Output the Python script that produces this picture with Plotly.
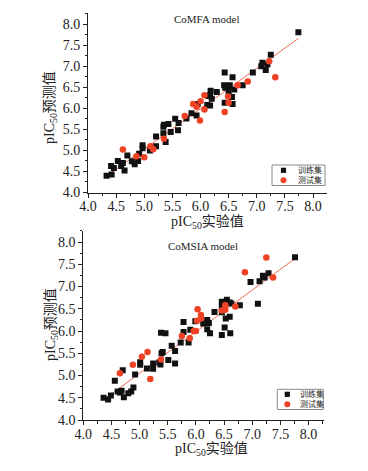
import plotly.graph_objects as go

# ---------------- CoMFA (top) ----------------
comfa_train_x = [4.33, 4.42, 4.41, 4.46, 4.53, 4.59, 4.62, 4.65, 4.70, 4.78, 4.83, 4.89, 4.91,
                 4.97, 4.97, 5.10, 5.21, 5.21, 5.34, 5.35, 5.34, 5.38, 5.43, 5.47, 5.55, 5.60,
                 5.61, 5.75, 5.84, 5.93, 5.95, 6.12, 6.14, 6.17, 6.17, 6.20, 6.18, 6.29, 6.42,
                 6.44, 6.43, 6.50, 6.52, 6.56, 6.57, 6.57, 6.43, 6.60, 6.75, 6.93, 7.08, 7.10,
                 7.16, 7.19, 7.25, 7.74]
comfa_train_y = [4.40, 4.43, 4.63, 4.58, 4.75, 4.63, 4.70, 4.52, 4.88, 4.74, 4.67, 4.75, 4.92,
                 5.12, 5.05, 5.00, 5.10, 5.33, 5.56, 5.61, 5.41, 5.20, 5.63, 5.44, 5.75, 5.48,
                 5.65, 5.76, 5.88, 5.83, 6.10, 6.08, 6.29, 6.07, 6.31, 6.23, 6.42, 6.39, 6.55,
                 6.49, 6.85, 6.41, 6.55, 6.27, 6.10, 6.74, 6.13, 6.45, 6.55, 6.85, 7.00, 7.08,
                 6.91, 7.05, 7.27, 7.81]
comfa_test_x = [4.62, 4.86, 5.00, 5.11, 5.16, 5.35, 5.72, 5.87, 5.93, 5.99, 6.00, 6.07, 6.07,
                6.43, 6.49, 6.50, 6.66, 6.84, 7.22, 7.33]
comfa_test_y = [5.02, 4.86, 4.84, 5.10, 5.03, 5.28, 5.82, 6.10, 6.04, 5.71, 6.17, 6.31, 5.97,
                5.91, 6.28, 6.13, 6.55, 6.64, 7.12, 6.74]
comfa_fit_x = [4.33, 7.74]
comfa_fit_y = [4.39, 7.66]

# ---------------- CoMSIA (bottom) ----------------
comsia_train_x = [4.36, 4.44, 4.49, 4.56, 4.61, 4.65, 4.68, 4.70, 4.72, 4.80, 4.85, 4.89, 4.92,
                  5.01, 5.01, 5.13, 5.24, 5.24, 5.35, 5.37, 5.39, 5.41, 5.38, 5.46, 5.51, 5.57,
                  5.63, 5.63, 5.73, 5.87, 5.78, 5.78, 5.90, 5.99, 6.13, 6.20, 6.23, 6.20, 6.25,
                  6.33, 6.46, 6.46, 6.46, 6.46, 6.51, 6.53, 6.55, 6.60, 6.61, 6.60, 6.63, 6.78,
                  6.97, 7.10, 7.13, 7.19, 7.22, 7.29, 7.76]
comsia_train_y = [4.50, 4.46, 4.55, 4.88, 4.64, 4.62, 4.66, 5.12, 4.51, 4.60, 4.64, 4.73, 5.02,
                  5.30, 5.24, 5.16, 5.27, 5.15, 5.29, 5.25, 5.50, 5.53, 5.96, 5.95, 5.35, 5.67,
                  5.55, 5.27, 5.74, 5.74, 6.20, 5.98, 6.03, 6.22, 6.17, 6.25, 6.18, 6.04, 5.95,
                  6.43, 6.66, 6.55, 6.42, 5.91, 6.08, 6.28, 6.70, 6.32, 5.95, 6.64, 6.62, 6.58,
                  7.10, 6.61, 7.12, 7.24, 7.20, 7.30, 7.66]
comsia_test_x = [4.65, 4.88, 5.04, 5.14, 5.19, 5.38, 5.75, 5.89, 5.96, 6.00, 6.02, 6.09, 6.09,
                 6.03, 6.46, 6.52, 6.52, 6.70, 6.87, 7.25, 7.37]
comsia_test_y = [5.05, 5.24, 5.42, 5.53, 4.92, 5.36, 5.89, 5.84, 6.00, 6.00, 6.23, 6.28, 6.36,
                 6.49, 6.46, 6.48, 6.58, 6.55, 7.32, 7.65, 7.20]
comsia_fit_x = [4.38, 7.75]
comsia_fit_y = [4.47, 7.62]

tick_vals = [4.0, 4.5, 5.0, 5.5, 6.0, 6.5, 7.0, 7.5, 8.0]
tick_text = ["4.0", "4.5", "5.0", "5.5", "6.0", "6.5", "7.0", "7.5", "8.0"]
train_name = "训练集"
test_name = "测试集"
titles = ["CoMFA model", "CoMSIA model"]
x_title = "pIC<sub>50</sub>实验值"
y_title = "pIC<sub>50</sub>预测值"

SERIF = "Liberation Serif, Times New Roman, Noto Sans CJK SC, serif"
BLACK = "#111111"
RED = "#EF4124"
LINE = "#F06A55"
TXT = "#222222"

PAGE_W, PAGE_H = 368, 471
OFF = 8  # default body margin of the html page
W, H = PAGE_W - OFF, PAGE_H - OFF


def px(x):
    return (x - OFF) / W


def py(y):
    return 1 - (y - OFF) / H


fig = go.Figure()

panels = [
    (comfa_train_x, comfa_train_y, comfa_test_x, comfa_test_y, comfa_fit_x, comfa_fit_y, "x", "y"),
    (comsia_train_x, comsia_train_y, comsia_test_x, comsia_test_y, comsia_fit_x, comsia_fit_y, "x2", "y2"),
]
for trx, tr_y, tex, tey, fx, fy, xa, ya in panels:
    fig.add_trace(go.Scatter(x=fx, y=fy, mode="lines", line=dict(color=LINE, width=1),
                             showlegend=False, xaxis=xa, yaxis=ya, hoverinfo="skip"))
    fig.add_trace(go.Scatter(x=trx, y=tr_y, mode="markers", name=train_name, showlegend=False,
                             marker=dict(symbol="square", size=6, color=BLACK),
                             xaxis=xa, yaxis=ya))
    fig.add_trace(go.Scatter(x=tex, y=tey, mode="markers", name=test_name, showlegend=False,
                             marker=dict(symbol="circle", size=6.5, color=RED),
                             xaxis=xa, yaxis=ya))


def axis_common():
    return dict(
        showline=True, linecolor=TXT, linewidth=1, showgrid=False, zeroline=False,
        ticks="outside", ticklen=4, tickwidth=1, tickcolor=TXT,
        tickmode="array", tickvals=tick_vals, ticktext=tick_text,
        tickfont=dict(family=SERIF, size=14, color=TXT),
        minor=dict(ticks="outside", ticklen=2.5, tickwidth=1, tickcolor=TXT,
                   tickmode="linear", tick0=4.0, dtick=0.25, showgrid=False),
        automargin=False, fixedrange=True,
    )


top_x_dom = [px(88), px(326.5)]
top_y_dom = [py(192.5), py(13.2)]
bot_x_dom = [px(83.3), px(324.3)]
bot_y_dom = [py(420), py(230.9)]

title_font = dict(family=SERIF, size=14, color=TXT)


def ann(text, x, y, size, angle=0, xanchor="center", font=None):
    return dict(text=text, x=px(x), y=py(y), xref="paper", yref="paper",
                xanchor=xanchor, yanchor="middle", showarrow=False, textangle=angle,
                font=font or dict(family=SERIF, size=size, color=TXT))


annotations = [
    ann(titles[0], 207, 19, 11),
    ann(titles[1], 203, 246, 11),
    ann(x_title, 207, 222, 14, font=title_font),
    ann(x_title, 211.5, 449, 14, font=title_font),
    ann(y_title, 51, 108, 14, angle=-90, font=title_font),
    ann(y_title, 51, 325, 14, angle=-90, font=title_font),
]

shapes = []
# hand-built compact legends (box, symbol, label)
legend_boxes = [
    dict(x0=272, x1=325, y0=165, y1=185.5, sx=283.5, tx=295.5, y_items=[170.3, 180.2]),
    dict(x0=277.3, x1=323.3, y0=389.3, y1=409.5, sx=287.3, tx=297.5, y_items=[394.3, 404.2]),
]
legend_names = [train_name, test_name]
for lb in legend_boxes:
    shapes.append(dict(type="rect", xref="paper", yref="paper",
                       x0=px(lb["x0"]), x1=px(lb["x1"]), y0=py(lb["y1"]), y1=py(lb["y0"]),
                       line=dict(color="#8a8a8a", width=1), fillcolor="white", layer="above"))
    yi0, yi1 = lb["y_items"]
    s = 2.6
    shapes.append(dict(type="rect", xref="paper", yref="paper",
                       x0=px(lb["sx"] - s), x1=px(lb["sx"] + s), y0=py(yi0 + s), y1=py(yi0 - s),
                       line=dict(width=0), fillcolor=BLACK, layer="above"))
    r = 3.0
    shapes.append(dict(type="circle", xref="paper", yref="paper",
                       x0=px(lb["sx"] - r), x1=px(lb["sx"] + r), y0=py(yi1 + r), y1=py(yi1 - r),
                       line=dict(width=0), fillcolor=RED, layer="above"))
    for name, yy in zip(legend_names, lb["y_items"]):
        annotations.append(ann(name, lb["tx"], yy, 8, xanchor="left"))

fig.update_layout(
    width=W, height=H,
    margin=dict(l=0, r=0, t=0, b=0),
    paper_bgcolor="white", plot_bgcolor="white",
    font=dict(family=SERIF, color=TXT),
    xaxis=dict(**axis_common(), domain=top_x_dom, range=[4.0, 8.24], anchor="y",
               ticklabelstandoff=-3),
    yaxis=dict(**axis_common(), domain=top_y_dom, range=[4.0, 8.26], anchor="x"),
    xaxis2=dict(**axis_common(), domain=bot_x_dom, range=[4.0, 8.28], anchor="y2",
                ticklabelstandoff=-3),
    yaxis2=dict(**axis_common(), domain=bot_y_dom, range=[4.0, 8.25], anchor="x2"),
    annotations=annotations,
    shapes=shapes,
    showlegend=False,
)

fig.write_html("out.html")
